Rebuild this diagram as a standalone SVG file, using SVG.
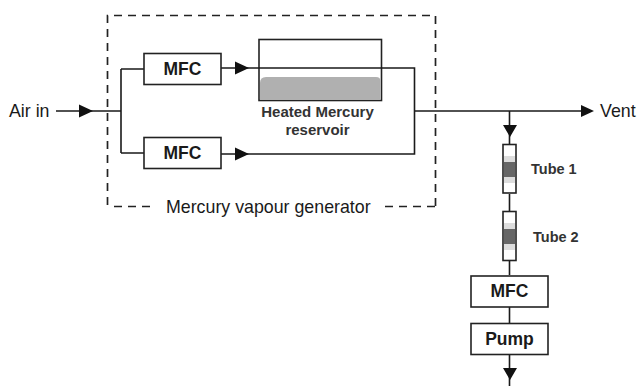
<svg xmlns="http://www.w3.org/2000/svg" width="639" height="386" viewBox="0 0 639 386">
<style>
text{font-family:"Liberation Sans",Arial,sans-serif;fill:#1a1a1a}
.b{fill:#fff;stroke:#222;stroke-width:1.6}
.c{fill:none;stroke:#1a1a1a;stroke-width:1.6}
.h{fill:#111}
.m{font-weight:700;font-size:17.500px;text-anchor:middle}
.l{font-size:17.800px}
.s{font-weight:700;font-size:15px;text-anchor:middle;fill:#333}
.t{font-size:14.500px;font-weight:700;fill:#333}
.d{fill:none;stroke:#222;stroke-width:1.700;stroke-dasharray:8 6}
</style>
<rect width="639" height="386" fill="#fff"/>
<g id="generator">
<path class="d" d="M107.500 205V15.500H435.500V206"/>
<path class="d" d="M114 206.500H152M385 206.500H435"/>
<text class="l" x="166" y="212.500">Mercury vapour generator</text>
</g>
<g id="reservoir">
<rect x="259" y="39.500" width="122.500" height="61" fill="#fff" stroke="#222" stroke-width="1.600"/>
<path d="M260 100V83Q260 77 266 77H376Q380.500 77 380.500 81V100Z" fill="#b0b0b0"/>
<text class="s" x="317.500" y="117">Heated Mercury</text>
<text class="s" x="317.500" y="135">reservoir</text>
</g>
<g id="connectors">
<path class="c" d="M56 111H121M121 69V153M121 69H144M121 153H144M221 68H414.500V154H221M415 111H585M509.500 111V144M509.500 194V211M509.500 261V275M509.500 307V323M509.500 355V386"/>
<path class="h" d="M79 104.500L93 111L79 117.500ZM235 61.500L249 68L235 74.500ZM235 147.500L249 154L235 160.500ZM581 105L594 111L581 117ZM503 125H517L510 137ZM503 368H517L510 380Z"/>
</g>
<g id="airin"><text class="l" x="9" y="117">Air in</text></g>
<g id="vent"><text class="l" x="600" y="117">Vent</text></g>
<g id="mfc1"><rect class="b" x="144" y="53.500" width="77" height="31"/><text class="m" x="182.500" y="75">MFC</text></g>
<g id="mfc2"><rect class="b" x="144" y="137.500" width="77" height="31"/><text class="m" x="182.500" y="159">MFC</text></g>
<g id="tube1">
<rect class="b" x="503" y="144.500" width="13" height="48.500"/>
<rect x="504" y="156" width="11" height="27" fill="#ddd"/>
<rect x="504" y="162" width="11" height="15" fill="#666"/>
<text class="t" x="531" y="174">Tube 1</text>
</g>
<g id="tube2">
<rect class="b" x="503" y="211.500" width="13" height="49"/>
<rect x="504" y="223" width="11" height="27" fill="#ddd"/>
<rect x="504" y="229" width="11" height="15" fill="#666"/>
<text class="t" x="533" y="242">Tube 2</text>
</g>
<g id="mfc3"><rect class="b" x="471" y="276" width="77" height="31"/><text class="m" x="509.500" y="297">MFC</text></g>
<g id="pump"><rect class="b" x="471" y="323.500" width="77" height="31"/><text class="m" x="509.500" y="345">Pump</text></g>
</svg>
